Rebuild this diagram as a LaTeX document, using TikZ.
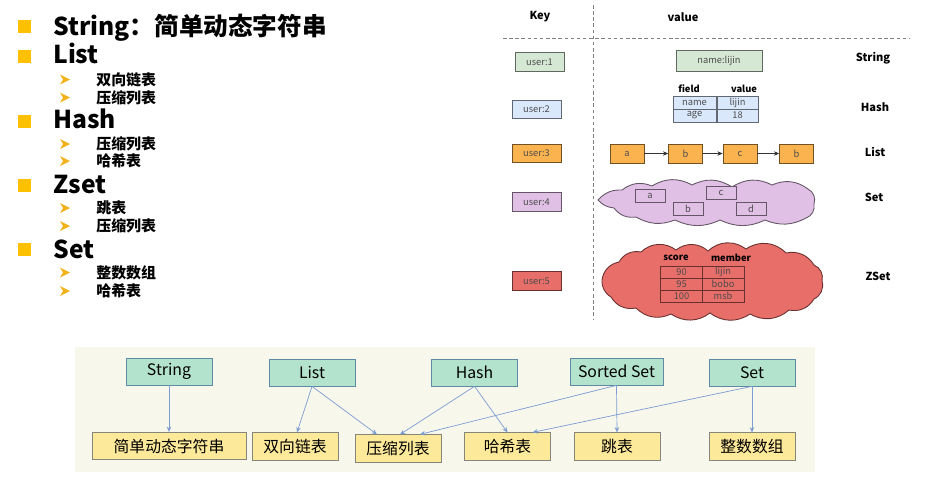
\documentclass[tikz,border=0pt]{standalone}
\usepackage{fontspec}
\setmainfont{Noto Sans CJK SC}
\usetikzlibrary{arrows.meta}

\definecolor{bulletyel}{HTML}{FFC000}
\definecolor{arrowyel}{HTML}{F2B21B}
\definecolor{strgreen}{HTML}{D5E8D4}
\definecolor{hashblue}{HTML}{DAE8FC}
\definecolor{listorange}{HTML}{FBB34F}
\definecolor{setpurple}{HTML}{E1C0E6}
\definecolor{zsetred}{HTML}{E86E69}
\definecolor{panelbg}{HTML}{F7F7EC}
\definecolor{typegreen}{HTML}{B3E3CC}
\definecolor{typeedge}{HTML}{5E8AA3}
\definecolor{implyellow}{HTML}{FDE99A}
\definecolor{impledge}{HTML}{85857A}
\definecolor{linkblue}{HTML}{7C9DD1}

\begin{document}
\begin{tikzpicture}[x=0.02cm,y=-0.02cm,
	head/.style={inner sep=0pt,font=\fontsize{14}{16}\selectfont\bfseries},
	sub/.style={inner sep=0pt,font=\fontsize{8.5}{10}\selectfont\bfseries},
	smalltext/.style={font=\fontsize{5.3}{6}\selectfont},
	hdr/.style={inner sep=0pt,font=\fontsize{6.3}{7}\selectfont\bfseries},
	colhdr/.style={inner sep=0pt,font=\fontsize{5.3}{6}\selectfont\bfseries},
	cell/.style={draw=#1!45!black,fill=#1,inner sep=0pt,minimum height=0.26cm,smalltext,text=black!70},
	keybox/.style={cell=#1,minimum width=0.98cm,minimum height=0.37cm},
	cloudline/.style={draw=#1!45!black,fill=#1,line width=0.5pt},
	typebox/.style={draw=typeedge,fill=typegreen,minimum height=0.54cm,minimum width=1.72cm,inner sep=0pt,font=\fontsize{9}{10}\selectfont},
	implbox/.style={draw=impledge,fill=implyellow,minimum height=0.55cm,minimum width=1.72cm,inner sep=0pt,font=\fontsize{9}{10}\selectfont},
	link/.style={draw=linkblue,line width=0.4pt,-{Stealth[length=3pt,width=2.6pt]}}
]
	\useasboundingbox (0,0) rectangle (950,488);
	
	% types and their encodings
	\foreach \yb/\yt/\txt [count=\i] in {26/35/{String：简单动态字符串},56/63/List,121/128/Hash,185/193/Zset,249/258/Set}{
		\fill[bulletyel] (17.5,\yb-6.5) rectangle (30.5,\yb+6.5);
		\node[head,anchor=base west] (head\i) at (53,\yt) {\txt};
	}
	\foreach \y/\txt [count=\i] in {79.5/双向链表,97.5/压缩列表,144/压缩列表,161/哈希表,208/跳表,226/压缩列表,272.5/整数数组,291/哈希表}{
		\fill[arrowyel] (60,\y-5) -- (70,\y) -- (60,\y+5) -- (63,\y) -- cycle;
		\node[sub,anchor=west] (sub\i) at (96,\y) {\txt};
	}
	
	% key / value
	\draw[gray,dash pattern=on 2pt off 1.5pt] (593,5) -- (593,320);
	\draw[gray,dash pattern=on 2pt off 1.5pt] (503,38) -- (910,38);
	\node[hdr] (keyhdr) at (540,17) {Key};
	\node[hdr] (valhdr) at (683,17) {value};
	
	\node[keybox=strgreen] (k1) at (539.5,62) {user:1};
	\node[keybox=hashblue] (k2) at (536.5,109.5) {user:2};
	\node[keybox=listorange] (k3) at (536.5,153.5) {user:3};
	\node[keybox=setpurple] (k4) at (536.5,202) {user:4};
	\node[keybox=zsetred] (k5) at (536.5,281) {user:5};
	
	\node[cell=strgreen,minimum width=1.72cm,minimum height=0.42cm] (v1) at (719,60.5) {name:lijin};
	
	\node[colhdr] (hfield) at (689,89) {field};
	\node[colhdr] (hvalue) at (744,89) {value};
	\node[cell=hashblue,minimum width=0.86cm] (hname) at (694.5,102.5) {name};
	\node[cell=hashblue,minimum width=0.82cm] (hlijin) at (737.5,102.5) {lijin};
	\node[cell=hashblue,minimum width=0.86cm] (hage) at (694.5,115.5) {age};
	\node[cell=hashblue,minimum width=0.82cm] (h18) at (737.5,115.5) {18};
	
	\foreach \x/\t [count=\i] in {627/a,685.5/b,740/c,796.5/b}
		\node[cell=listorange,minimum width=0.68cm,minimum height=0.38cm] (l\i) at (\x,153.5) {\t};
	\foreach \i/\j in {1/2,2/3,3/4}
		\draw[black!80,-{Stealth[length=3pt,width=2.6pt]}] (l\i) -- (l\j);
	
	% set cloud
	\path[cloudline=setpurple] (598,200) to[bend left=25] (622,190) to[bend left=30] (652,186)
		to[bend left=30] (692,185) to[bend left=30] (732,187) to[bend left=30] (772,185)
		to[bend left=30] (808,189) to[bend left=40] (814,204) to[bend left=40] (806,218)
		to[bend left=25] (765,220) to[bend left=25] (720,220) to[bend left=25] (675,220)
		to[bend left=25] (636,217) to[bend left=30] (614,208) to[bend left=20] cycle;
	\foreach \x/\y/\t in {650/195.5/a,721/192.5/c,688/208.5/b,751/208.5/d}
		\node[cell=setpurple,minimum width=0.6cm] (s\t) at (\x,\y) {\t};
	
	% zset cloud
	\path[cloudline=zsetred] (602,280) to[bend left=35] (619,262) to[bend left=35] (641,252)
		to[bend left=40] (676,250) to[bend left=40] (708,251) to[bend left=40] (746,249)
		to[bend left=40] (786,253) to[bend left=35] (814,265) to[bend left=40] (822,281)
		to[bend left=40] (814,299) to[bend left=35] (789,310) to[bend left=35] (750,314)
		to[bend left=35] (710,313) to[bend left=35] (671,314) to[bend left=35] (636,308)
		to[bend left=35] (611,297) to[bend left=30] cycle;
	\node[colhdr] (zscore) at (676,258) {score};
	\node[colhdr] (zmember) at (731,258) {member};
	\foreach \y/\s/\m [count=\i] in {272/90/lijin,284/95/bobo,296/100/msb}{
		\node[cell=zsetred,minimum width=0.83cm,minimum height=0.24cm] (zs\i) at (681.5,\y) {\s};
		\node[cell=zsetred,minimum width=0.84cm,minimum height=0.24cm] (zm\i) at (723,\y) {\m};
	}
	
	\node[hdr] (tstring) at (873,58) {String};
	\node[hdr] (thash) at (875,107) {Hash};
	\node[hdr] (tlist) at (875,152) {List};
	\node[hdr] (tset) at (874,197) {Set};
	\node[hdr] (tzset) at (878,276) {ZSet};
	
	% object types -> encodings
	\fill[panelbg] (75,347) rectangle (815,472);
	\node[typebox] (string) at (169,371.5) {String};
	\node[typebox] (list) at (312,372.5) {List};
	\node[typebox] (hash) at (474.5,372.5) {Hash};
	\node[typebox,minimum width=1.86cm] (zset) at (616.5,371.5) {Sorted Set};
	\node[typebox] (set) at (752,372.5) {Set};
	
	\node[implbox,minimum width=3.08cm] (sds) at (169,446) {简单动态字符串};
	\node[implbox] (dlist) at (295,446.5) {双向链表};
	\node[implbox] (zlist) at (398,448.5) {压缩列表};
	\node[implbox] (hashtab) at (507.5,446.5) {哈希表};
	\node[implbox] (skip) at (617,446.5) {跳表};
	\node[implbox] (intset) at (752,446.5) {整数数组};
	
	\draw[link] (string) -- (sds);
	\draw[link] (list.south) -- ([xshift=0.04cm]dlist.north);
	\draw[link] (list.south) -- ([xshift=-0.42cm]zlist.north);
	\draw[link] (hash.south) -- ([xshift=0.04cm]zlist.north);
	\draw[link] (zset.south) -- ([xshift=0.44cm]zlist.north);
	\draw[link] (hash.south) -- (hashtab.north);
	\draw[link] (set.south) -- ([xshift=0.5cm]hashtab.north);
	\draw[link] (zset.south) -- (skip.north);
	\draw[link] (set) -- (intset);
\end{tikzpicture}
\end{document}
